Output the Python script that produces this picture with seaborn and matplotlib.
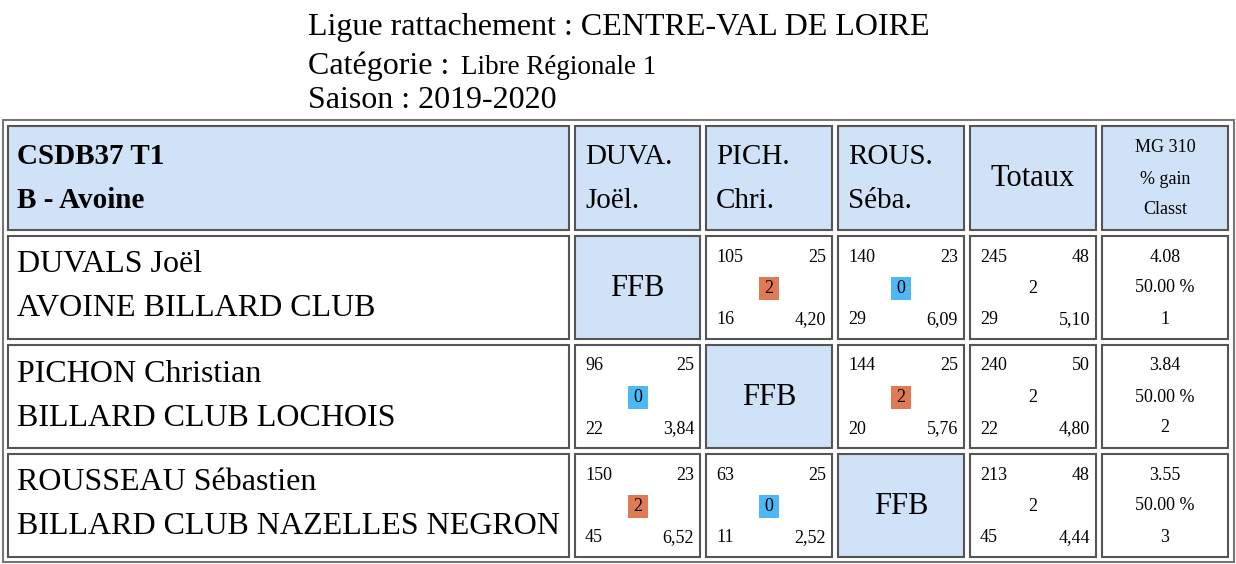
import matplotlib
matplotlib.use("Agg")
import matplotlib.pyplot as plt
from matplotlib.patches import Rectangle
import seaborn as sns

sns.set_theme(style="white", rc={"font.family": "Liberation Serif", "text.color": "black"})

# --- data ---
title_ligue = "Ligue rattachement : CENTRE-VAL DE LOIRE"
title_cat = "Libre Régionale 1"
title_saison = "Saison : 2019-2020"
team = ["CSDB37 T1", "B - Avoine"]
col_heads = [["DUVA.", "Joël."], ["PICH.", "Chri."], ["ROUS.", "Séba."]]
players = ["DUVALS Joël", "PICHON Christian", "ROUSSEAU Sébastien"]
clubs = ["AVOINE BILLARD CLUB", "BILLARD CLUB LOCHOIS", "BILLARD CLUB NAZELLES NEGRON"]
# match cells [row][col] : (points, distance, match pts, reprises, moyenne)
matches = [
    [None, (105, 25, 2, 16, "4,20"), (140, 23, 0, 29, "6,09")],
    [(96, 25, 0, 22, "3,84"), None, (144, 25, 2, 20, "5,76")],
    [(150, 23, 2, 45, "6,52"), (63, 25, 0, 11, "2,52"), None],
]
totals = [(245, 48, 2, 29, "5,10"), (240, 50, 2, 22, "4,80"), (213, 48, 2, 45, "4,44")]
mg = ["4.08", "3.84", "3.55"]
gain = ["50.00 %", "50.00 %", "50.00 %"]
classt = [1, 2, 3]

# --- layout ---
col_x = [(8, 569), (575, 700), (706, 832), (838, 964), (970, 1096), (1102, 1228)]
row_y = [(126, 230), (236, 339), (345, 448), (454, 557)]
HEAD_BG = "#cfe2f8"
ORANGE = "#e07a55"
BLUE = "#4db8f5"
SMALL = 13

fig = plt.figure(figsize=(12.36, 5.64), dpi=100)
ax = fig.add_axes([0, 0, 1, 1])
ax.set_xlim(0, 1236)
ax.set_ylim(564, 0)
ax.axis("off")

ax.text(308, 27, title_ligue, fontsize=23, va="center")
ax.text(308, 66, "Catégorie :", fontsize=23, va="center")
ax.text(461, 67, title_cat, fontsize=19.5, va="center")
ax.text(308, 101, title_saison, fontsize=23, va="center")

ax.add_patch(Rectangle((3, 120), 1231, 442, fill=False, ec="#777777", lw=1.5))


def cell(c, r, bg="white"):
    x0, x1 = col_x[c]
    y0, y1 = row_y[r]
    ax.add_patch(Rectangle((x0, y0), x1 - x0, y1 - y0, fc=bg, ec="#555555", lw=1.5))
    return x0, x1, y0, y1


def score_cell(c, r, vals):
    x0, x1, y0, y1 = cell(c, r)
    p, d, m, rep, moy = vals
    ax.text(x0 + 10, y0 + 21, str(p), fontsize=SMALL, va="center")
    ax.text(x1 - 6, y0 + 21, str(d), fontsize=SMALL, va="center", ha="right")
    ax.text(x0 + 10, y1 - 19, str(rep), fontsize=SMALL, va="center")
    ax.text(x1 - 6, y1 - 19, moy, fontsize=SMALL, va="center", ha="right")
    return x0, x1, y0, y1, m


# header
x0, x1, y0, y1 = cell(0, 0, HEAD_BG)
ax.text(17, 157, team[0], fontsize=21, weight="bold", va="center")
ax.text(17, 201, team[1], fontsize=21, weight="bold", va="center")
for i, (a, b) in enumerate(col_heads):
    x0, x1, y0, y1 = cell(i + 1, 0, HEAD_BG)
    ax.text(x0 + 10, 157, a, fontsize=21, va="center")
    ax.text(x0 + 10, 201, b, fontsize=21, va="center")
x0, x1, y0, y1 = cell(4, 0, HEAD_BG)
ax.text((x0 + x1) / 2, 179, "Totaux", fontsize=22, ha="center", va="center")
x0, x1, y0, y1 = cell(5, 0, HEAD_BG)
for k, t in enumerate(["MG 310", "% gain", "Classt"]):
    ax.text((x0 + x1) / 2, 148 + 31 * k, t, fontsize=SMALL, ha="center", va="center")

for r in range(3):
    x0, x1, y0, y1 = cell(0, r + 1)
    ax.text(17, y0 + 29, players[r], fontsize=23, va="center")
    ax.text(17, y0 + 73, clubs[r], fontsize=23, va="center")
    for c in range(3):
        if matches[r][c] is None:
            x0, x1, y0, y1 = cell(c + 1, r + 1, HEAD_BG)
            ax.text((x0 + x1) / 2, (y0 + y1) / 2 + 1, "FFB", fontsize=22, ha="center", va="center")
        else:
            x0, x1, y0, y1, m = score_cell(c + 1, r + 1, matches[r][c])
            cx, cy = (x0 + x1) / 2, (y0 + y1) / 2
            ax.add_patch(Rectangle((cx - 10, cy - 11), 20, 23, fc=ORANGE if m == 2 else BLUE, ec="none"))
            ax.text(cx, cy + 1, str(m), fontsize=SMALL, ha="center", va="center")
    x0, x1, y0, y1, m = score_cell(4, r + 1, totals[r])
    ax.text((x0 + x1) / 2, (y0 + y1) / 2 + 1, str(m), fontsize=SMALL, ha="center", va="center")
    x0, x1, y0, y1 = cell(5, r + 1)
    for k, t in enumerate([mg[r], gain[r], str(classt[r])]):
        ax.text((x0 + x1) / 2, y0 + 21 + 31 * k, t, fontsize=SMALL, ha="center", va="center")

fig.savefig("out.png", dpi=100)
